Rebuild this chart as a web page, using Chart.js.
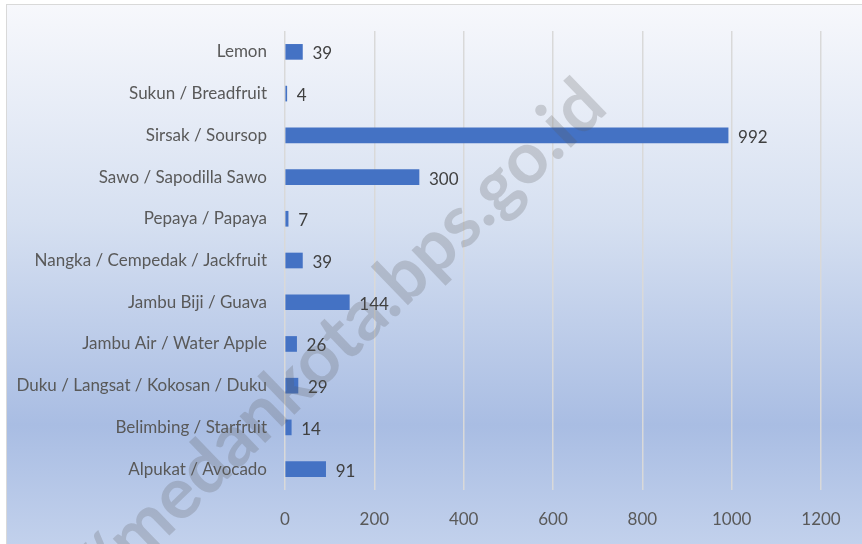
<!DOCTYPE html>
<html>
<head>
<meta charset="utf-8">
<title>Buah-buahan</title>
<script src="https://cdn.jsdelivr.net/npm/chart.js@4/dist/chart.umd.min.js"></script>
<style>
    body{ margin:0; background:#fff; }
    #wrap{ position:relative; width:862px; height:544px; }
</style>
</head>
<body>
<div id="wrap"><canvas id="canvas-grafico" width="862" height="544"></canvas></div>
<script>
const kategori = [
    "Lemon",
    "Sukun / Breadfruit",
    "Sirsak / Soursop",
    "Sawo / Sapodilla Sawo",
    "Pepaya / Papaya",
    "Nangka / Cempedak / Jackfruit",
    "Jambu Biji / Guava",
    "Jambu Air / Water Apple",
    "Duku / Langsat / Kokosan / Duku",
    "Belimbing / Starfruit",
    "Alpukat / Avocado"
];
const nilai = [39, 4, 992, 300, 7, 39, 144, 26, 29, 14, 91];
const tickX = [0, 200, 400, 600, 800, 1000, 1200];
const watermark = "http://medankota.bps.go.id";

const fuente = "Lato, 'Open Sans', sans-serif";

// fondo degradado + borde
const fondo = {
    id: "fondo",
    beforeDraw(chart){
        const ctx = chart.ctx;
        const g = ctx.createLinearGradient(0, 4, 0, 544);
        g.addColorStop(0, "#f7f8fc");
        g.addColorStop(0.4, "#d6e0f1");
        g.addColorStop(0.78, "#a9bde3");
        g.addColorStop(1, "#c2d1ec");
        ctx.save();
        ctx.fillStyle = g;
        ctx.fillRect(6, 4, 856, 540);
        ctx.strokeStyle = "#d9d9d9";
        ctx.lineWidth = 1;
        ctx.strokeRect(6.5, 4.5, 856, 540);
        ctx.restore();
    }
};

// etiquetas de valor al final de cada barra
const etiquetas = {
    id: "etiquetas",
    afterDatasetsDraw(chart){
        const ctx = chart.ctx;
        const meta = chart.getDatasetMeta(0);
        ctx.save();
        ctx.font = "17px " + fuente;
        ctx.fillStyle = "#404040";
        ctx.textAlign = "left";
        ctx.textBaseline = "middle";
        meta.data.forEach((bar, i) => {
            ctx.fillText(String(nilai[i]), bar.x + 10, bar.y + 2);
        });
        ctx.restore();
    }
};

// marca de agua
const marca = {
    id: "marca",
    afterDraw(chart){
        const ctx = chart.ctx;
        ctx.save();
        ctx.translate(610, 110);
        ctx.rotate(-44 * Math.PI / 180);
        ctx.font = "bold 72px " + fuente;
        ctx.fillStyle = "rgba(90, 90, 90, 0.24)";
        ctx.textAlign = "right";
        ctx.textBaseline = "alphabetic";
        ctx.fillText(watermark, 0, 0);
        ctx.restore();
    }
};

const ctx_g = document.getElementById("canvas-grafico");
let grafico = new Chart(ctx_g, {
    type: "bar",
    data: {
        labels: kategori,
        datasets: [{
            label: "Buah",
            data: nilai,
            backgroundColor: "#4472c4",
            barThickness: 15
        }]
    },
    options: {
        indexAxis: "y",
        responsive: false,
        animation: false,
        layout: { padding: { top: 31, right: 41, left: 0, bottom: 0 } },
        plugins: {
            legend: { display: false },
            tooltip: { enabled: false }
        },
        scales: {
            x: {
                min: 0,
                max: 1200,
                afterBuildTicks: (scale) => { scale.ticks = tickX.map(v => ({ value: v })); },
                afterFit: (scale) => { scale.height = 54; },
                grid: { color: "#d9d9d9", lineWidth: 1.5, drawTicks: false },
                border: { display: false },
                ticks: {
                    padding: 19,
                    color: "#595959",
                    font: { family: fuente, size: 17 },
                    callback: (v) => String(v)
                }
            },
            y: {
                afterFit: (scale) => { scale.width = 285; },
                grid: { display: false, drawTicks: false },
                border: { display: false },
                ticks: { padding: 18, color: "#595959", font: { family: fuente, size: 17 } }
            }
        }
    },
    plugins: [fondo, etiquetas, marca]
});
</script>
</body>
</html>
